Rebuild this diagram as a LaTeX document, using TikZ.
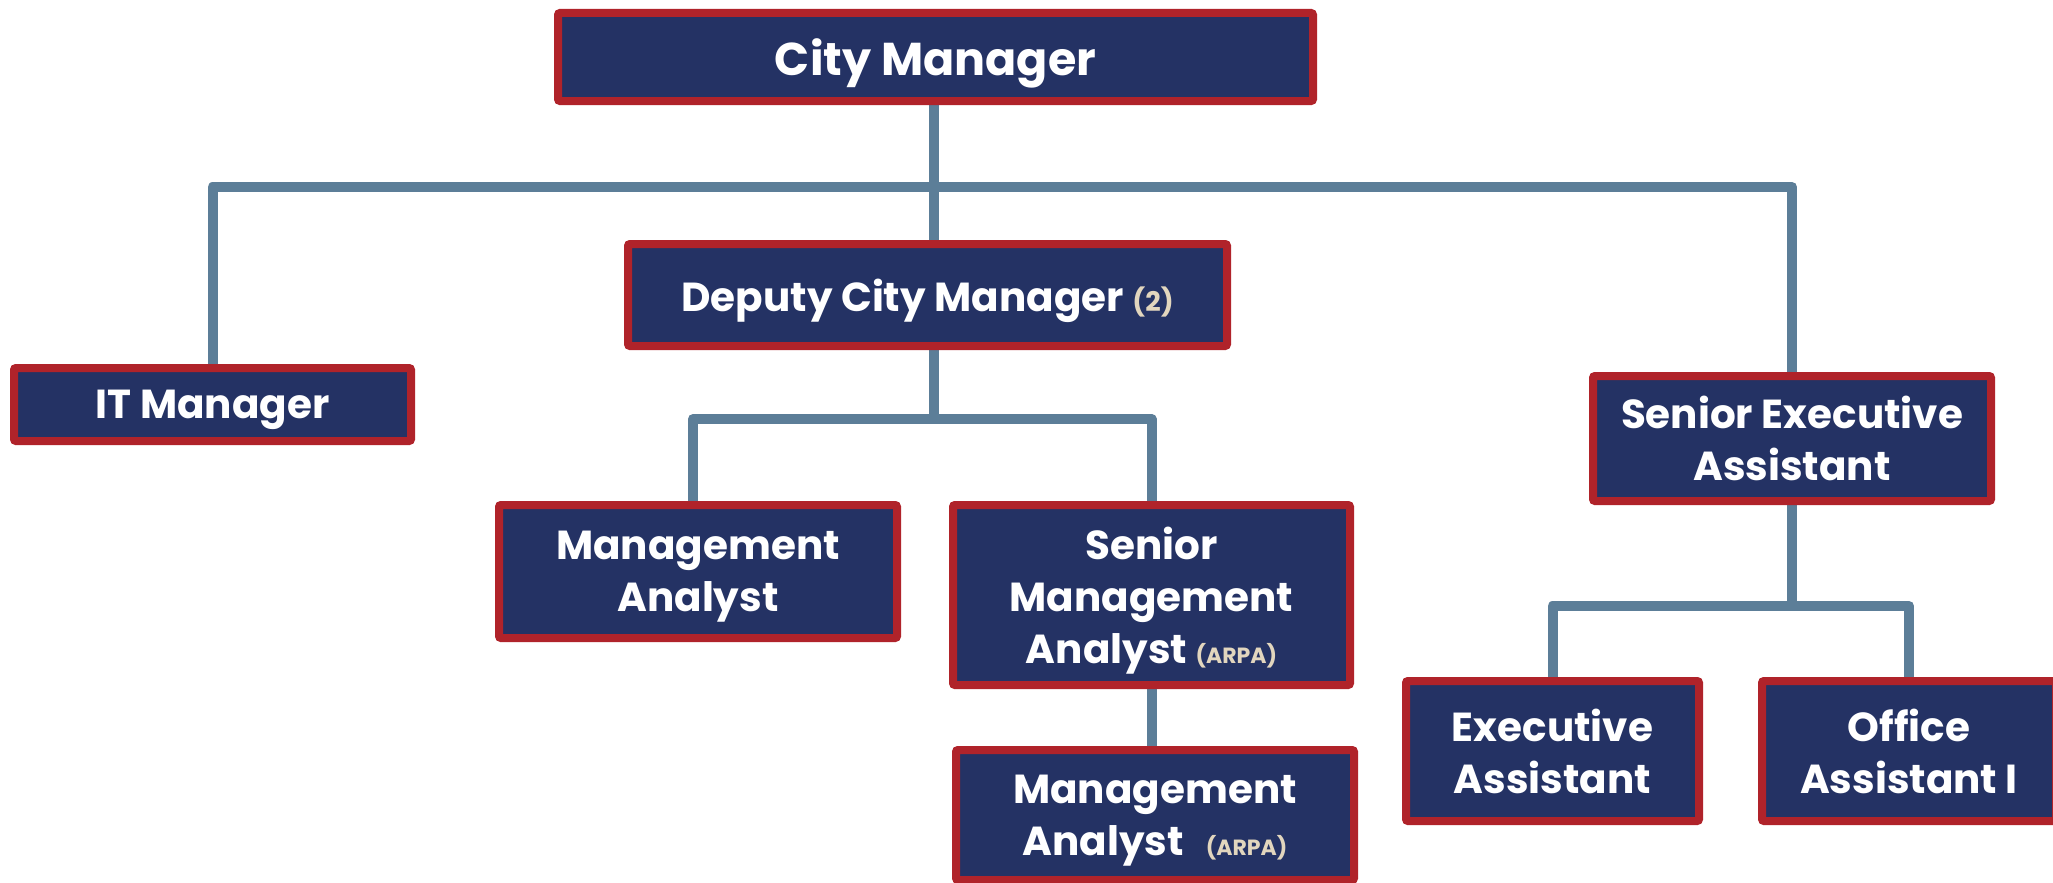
\documentclass[tikz,border=0pt]{standalone}
\usepackage{fontspec}
\newfontfamily\pop{Poppins}
\usetikzlibrary{backgrounds}
\definecolor{navy}{RGB}{36,50,100}
\definecolor{boxred}{RGB}{176,35,42}
\definecolor{steel}{RGB}{92,126,152}
\definecolor{beige}{RGB}{226,214,190}
\begin{document}
\begin{tikzpicture}[x=1pt,y=-1pt,
  post/.style={draw=boxred, fill=navy, line width=8pt, rounded corners=2pt,
    text=white, inner sep=0pt, align=center, text depth=0pt,
    font=\pop\bfseries\fontsize{40.5}{52}\selectfont},
  link/.style={draw=steel, line width=10pt, line join=round}]
\useasboundingbox (0,0) rectangle (2053,883);
\newcommand{\note}[2]{{\color{beige}\fontsize{#1}{#1}\selectfont #2}}
\node[post, minimum width=755pt, minimum height=88pt,
  font=\pop\bfseries\fontsize{46}{56}\selectfont] (cm) at (935.5,57) {City Manager};
\node[post, minimum width=397pt, minimum height=73pt] (it) at (212.5,404.5) {IT Manager};
\node[post, minimum width=599pt, minimum height=102pt] (dcm) at (927.5,295) {Deputy City Manager \note{27}{(2)}};
\node[post, minimum width=398pt, minimum height=133pt] (ma) at (698,571.5) {Management\\Analyst};
\node[post, minimum width=397pt, minimum height=180pt] (sma) at (1151.5,595) {Senior\\Management\\Analyst \note{22}{(ARPA)}};
\node[post, minimum width=398pt, minimum height=130pt] (maa) at (1155,815) {Management\\Analyst\hspace{22pt}\note{22}{(ARPA)}};
\node[post, minimum width=398pt, minimum height=125pt] (sea) at (1792,438.5) {Senior Executive\\Assistant};
\node[post, minimum width=293pt, minimum height=140pt] (ea) at (1552.5,751) {Executive\\Assistant};
\node[post, minimum width=294pt, minimum height=140pt] (oa) at (1909,751) {Office\\Assistant I};
\coordinate (bar1) at (934,187);
\coordinate (bar2) at (934,419);
\coordinate (bar3) at (1792,606);
\begin{scope}[on background layer]
\draw[link] (cm.south -| bar1) -- (bar1 |- dcm.north);
\draw[link] (it.north) -- (it.north |- bar1) -- (sea.north |- bar1) -- (sea.north);
\draw[link] (dcm.south -| bar2) -- (bar2);
\draw[link] (ma.north -| 693,0) -- (693,419) -- (sma.north |- bar2) -- (sma.north);
\draw[link] (sma.south) -- (sma.south |- maa.north);
\draw[link] (sea.south) -- (bar3);
\draw[link] (ea.north) -- (ea.north |- bar3) -- (oa.north |- bar3) -- (oa.north);
\end{scope}
\end{tikzpicture}
\end{document}
